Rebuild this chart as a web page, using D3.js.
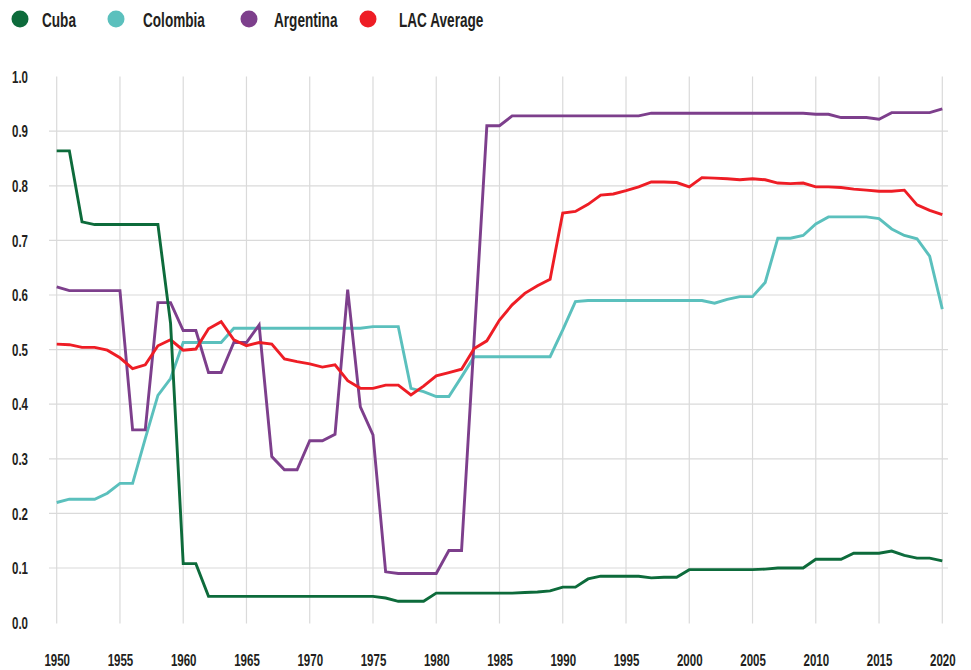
<!DOCTYPE html>
<html>
<head>
<meta charset="utf-8">
<script src="https://cdn.jsdelivr.net/npm/d3@7"></script>
<style>
  html, body { margin: 0; padding: 0; background: #fff; }
  svg { display: block; }
  text { font-family: "Liberation Sans", Arial, sans-serif; font-weight: bold; fill: #231f20; }
</style>
</head>
<body>
<svg id="chart" width="971" height="670"></svg>
<script>
const years = d3.range(1950, 2021);

const cuba = [
  0.864, 0.864, 0.734, 0.729, 0.729, 0.729, 0.729, 0.729, 0.729, 0.548,
  0.108, 0.108, 0.048, 0.048, 0.048, 0.048, 0.048, 0.048, 0.048, 0.048,
  0.048, 0.048, 0.048, 0.048, 0.048, 0.048, 0.045, 0.039, 0.039, 0.039,
  0.054, 0.054, 0.054, 0.054, 0.054, 0.054, 0.054, 0.055, 0.056, 0.058,
  0.065, 0.065, 0.080, 0.085, 0.085, 0.085, 0.085, 0.082, 0.083, 0.083,
  0.097, 0.097, 0.097, 0.097, 0.097, 0.097, 0.098, 0.100, 0.100, 0.100,
  0.116, 0.116, 0.116, 0.127, 0.127, 0.127, 0.131, 0.123, 0.118, 0.118,
  0.113
];

const colombia = [
  0.220, 0.226, 0.226, 0.226, 0.237, 0.255, 0.255, 0.337, 0.416, 0.447,
  0.513, 0.513, 0.513, 0.513, 0.539, 0.539, 0.539, 0.539, 0.539, 0.539,
  0.539, 0.539, 0.539, 0.539, 0.539, 0.542, 0.542, 0.542, 0.429, 0.423,
  0.414, 0.414, 0.450, 0.487, 0.487, 0.487, 0.487, 0.487, 0.487, 0.487,
  0.536, 0.588, 0.590, 0.590, 0.590, 0.590, 0.590, 0.590, 0.590, 0.590,
  0.590, 0.590, 0.585, 0.592, 0.597, 0.597, 0.623, 0.704, 0.704, 0.709,
  0.730, 0.743, 0.743, 0.743, 0.743, 0.740, 0.721, 0.709, 0.703, 0.671,
  0.574
];

const argentina = [
  0.615, 0.608, 0.608, 0.608, 0.608, 0.608, 0.353, 0.353, 0.586, 0.586,
  0.535, 0.535, 0.458, 0.458, 0.513, 0.513, 0.545, 0.304, 0.280, 0.280,
  0.333, 0.333, 0.345, 0.610, 0.395, 0.344, 0.093, 0.090, 0.090, 0.090,
  0.090, 0.132, 0.132, 0.520, 0.910, 0.910, 0.928, 0.928, 0.928, 0.928,
  0.928, 0.928, 0.928, 0.928, 0.928, 0.928, 0.928, 0.933, 0.933, 0.933,
  0.933, 0.933, 0.933, 0.933, 0.933, 0.933, 0.933, 0.933, 0.933, 0.933,
  0.931, 0.931, 0.925, 0.925, 0.925, 0.922, 0.934, 0.934, 0.934, 0.934,
  0.941
];

const lac = [
  0.510, 0.509, 0.504, 0.504, 0.499, 0.485, 0.465, 0.472, 0.507, 0.518,
  0.499, 0.501, 0.538, 0.551, 0.518, 0.507, 0.513, 0.510, 0.483, 0.478,
  0.474, 0.468, 0.472, 0.443, 0.429, 0.429, 0.435, 0.435, 0.417, 0.433,
  0.452, 0.458, 0.464, 0.502, 0.516, 0.554, 0.582, 0.603, 0.617, 0.629,
  0.750, 0.753, 0.766, 0.783, 0.785, 0.791, 0.798, 0.807, 0.807, 0.806,
  0.798, 0.815, 0.814, 0.813, 0.811, 0.813, 0.811, 0.805, 0.804, 0.805,
  0.798, 0.798, 0.797, 0.794, 0.792, 0.790, 0.790, 0.792, 0.765, 0.755,
  0.747
];

const seriesNames = ["Cuba", "Colombia", "Argentina", "LAC Average"];
const seriesColors = ["#0d6b3b", "#5bc0bd", "#7d3f8c", "#ee1d25"];
const xTicks = d3.range(1950, 2021, 5);
const yTicks = [0, 0.1, 0.2, 0.3, 0.4, 0.5, 0.6, 0.7, 0.8, 0.9, 1.0];

const svg = d3.select("#chart");
const x = d3.scaleLinear().domain([1950, 2020]).range([56.7, 942.3]);
const y = d3.scaleLinear().domain([0, 1]).range([622.6, 76.6]);

// gridlines
const grid = svg.append("g").attr("class", "grid");
grid.selectAll("line.v").data(xTicks).join("line")
  .attr("class", "v")
  .attr("x1", d => x(d)).attr("x2", d => x(d))
  .attr("y1", y(1)).attr("y2", y(0) + 1)
  .attr("stroke", "#dadada").attr("stroke-width", 1.2);
grid.selectAll("line.h").data(yTicks.filter(d => d > 0 && d < 1)).join("line")
  .attr("class", "h")
  .attr("x1", 49).attr("x2", 948)
  .attr("y1", d => y(d)).attr("y2", d => y(d))
  .attr("stroke", "#dadada").attr("stroke-width", 1.2);

// axes (labels only)
const yAxis = svg.append("g")
  .attr("transform", "translate(28,0)")
  .call(d3.axisLeft(y).tickValues(yTicks).tickSize(0).tickPadding(0).tickFormat(d3.format(".1f")));
yAxis.select(".domain").remove();
yAxis.selectAll("text")
  .attr("font-size", 16).attr("font-family", null)
  .attr("dy", "0.36em")
  .attr("transform", "scale(0.72,1)");

const xAxis = svg.append("g")
  .attr("transform", "translate(0,666)")
  .call(d3.axisBottom(x).tickValues(xTicks).tickSize(0).tickPadding(0).tickFormat(d3.format("d")));
xAxis.select(".domain").remove();
xAxis.selectAll("text")
  .attr("font-size", 16).attr("font-family", null)
  .attr("dy", 0)
  .attr("transform", "scale(0.72,1)");

// lines
const allSeries = [cuba, colombia, argentina, lac];
const drawOrder = [1, 2, 3, 0];
const line = d3.line().x((d, i) => x(years[i])).y(d => y(d));
svg.append("g").selectAll("path").data(drawOrder).join("path")
  .attr("d", k => line(allSeries[k]))
  .attr("fill", "none")
  .attr("stroke", k => seriesColors[k])
  .attr("stroke-width", 2.9)
  .attr("stroke-linejoin", "miter")
  .attr("stroke-miterlimit", 10);

// legend
const legendX = [20, 116, 249, 368];
const legendTextX = [42, 143, 274, 399];
const legend = svg.append("g");
legend.selectAll("circle").data(seriesNames).join("circle")
  .attr("cx", (d, i) => legendX[i]).attr("cy", 19)
  .attr("r", 8.5).attr("fill", (d, i) => seriesColors[i]);
legend.selectAll("text").data(seriesNames).join("text")
  .attr("transform", (d, i) => `translate(${legendTextX[i]},27) scale(0.68,1)`)
  .attr("font-size", 20).text(d => d);
</script>
</body>
</html>
